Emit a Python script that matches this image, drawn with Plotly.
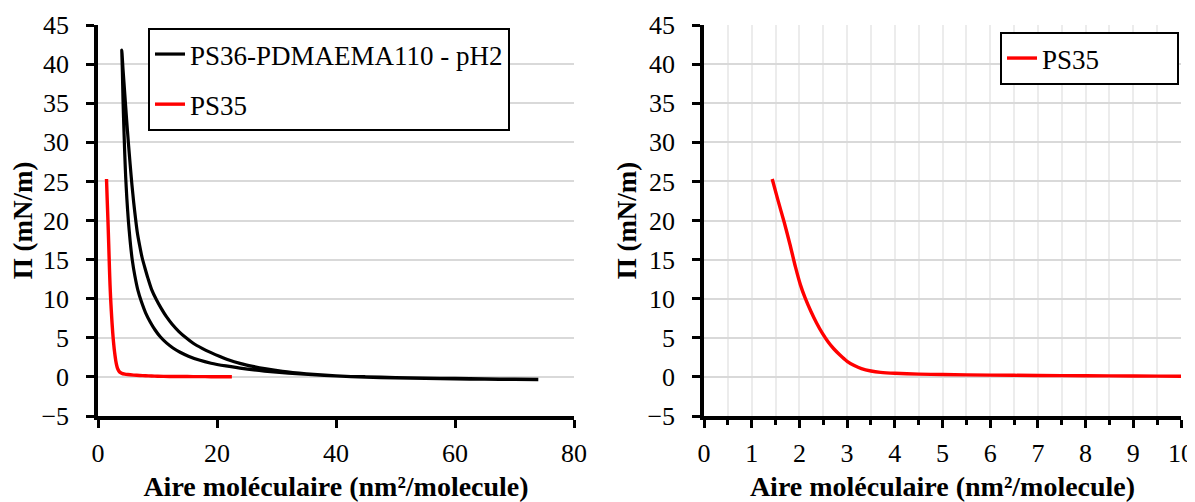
import plotly.graph_objects as go

# ---------------- data ----------------
# PS36-PDMAEMA110 - pH2 : compression branch (large -> small area) then expansion branch
bk_comp_x = [74, 70, 65, 60, 55, 50, 45, 40, 35, 31, 28, 26, 24, 22, 20.5, 19, 17.5, 16, 14.8, 13.6, 12.5,
             11.5, 10.6, 9.8, 9.0, 8.4, 7.9, 7.4, 7.0, 6.6, 6.3, 6.0, 5.7, 5.4, 5.1, 4.8, 4.5, 4.2, 4.0]
bk_comp_y = [-0.3, -0.28, -0.25, -0.2, -0.15, -0.08, 0.02, 0.15, 0.4, 0.7, 1.05, 1.35, 1.7, 2.15, 2.6, 3.1,
             3.65, 4.3, 5.0, 5.8, 6.7, 7.7, 8.8, 9.9, 11.2, 12.6, 13.9, 15.3, 16.8, 18.5, 20.3, 22.3, 24.6,
             27.2, 30.0, 33.0, 36.2, 39.4, 41.8]
bk_exp_x = [4.1, 4.2, 4.35, 4.5, 4.65, 4.85, 5.1, 5.4, 5.75, 6.2, 6.7, 7.3, 8.0, 8.8, 9.6, 10.5, 11.5, 12.6,
            13.8, 15.2, 17, 19, 21.5, 24.5, 28, 32, 36, 40, 45, 50, 55, 60, 65, 70, 74]
bk_exp_y = [39.0, 35.5, 31.8, 28.4, 25.6, 22.8, 20.0, 17.4, 15.0, 12.9, 11.1, 9.6, 8.2, 7.0, 6.0, 5.1, 4.35,
            3.7, 3.15, 2.65, 2.15, 1.75, 1.4, 1.05, 0.75, 0.48, 0.3, 0.12, -0.03, -0.13, -0.2, -0.25, -0.3,
            -0.32, -0.35]

ps35_x = [1.43, 1.55, 1.68, 1.8, 1.92, 2.02, 2.12, 2.24, 2.36, 2.48, 2.6, 2.72, 2.85, 3.0, 3.15, 3.3, 3.5,
          3.7, 4.0, 4.5, 5.0, 6, 7, 8, 9, 10, 12, 14, 16, 18, 20, 22.5]
ps35_y = [25.3, 22.6, 19.8, 17.0, 14.0, 11.8, 10.1, 8.4, 6.9, 5.6, 4.5, 3.6, 2.8, 2.0, 1.45, 1.05, 0.75,
          0.58, 0.46, 0.36, 0.3, 0.23, 0.18, 0.14, 0.11, 0.08, 0.06, 0.05, 0.04, 0.03, 0.02, 0.02]

name_bk = "PS36-PDMAEMA110 - pH2"
name_red = "PS35"
x_title = "Aire moléculaire (nm²/molecule)"
y_title = "Π (mN/m)"

# page body has an 8px default margin -> figure placed at (8, 8)
OFF = 8
W, H = 1195 - OFF, 502 - OFF


def fx(px):
    return (px - OFF) / W


def fy(py):
    return 1 - (py - OFF) / H


FONT = "Liberation Serif"

fig = go.Figure()
fig.add_trace(go.Scatter(x=bk_comp_x + bk_exp_x, y=bk_comp_y + bk_exp_y, mode="lines", name=name_bk,
                         line=dict(color="black", width=3.2, shape="spline", smoothing=0.6),
                         xaxis="x", yaxis="y", legend="legend", legendgroup="a"))
fig.add_trace(go.Scatter(x=ps35_x, y=ps35_y, mode="lines", name=name_red,
                         line=dict(color="#ff0000", width=3.4, shape="spline", smoothing=0.6),
                         xaxis="x", yaxis="y", legend="legend", legendgroup="b"))
fig.add_trace(go.Scatter(x=ps35_x, y=ps35_y, mode="lines", name=name_red,
                         line=dict(color="#ff0000", width=3.4, shape="spline", smoothing=0.6),
                         xaxis="x2", yaxis="y2", legend="legend2"))

tickfont = dict(family=FONT, size=26, color="black")
ytitlefont = dict(family=FONT, size=27, color="black", weight="bold")
xtitlefont = dict(family=FONT, size=28, color="black", weight="bold")

common_y = dict(range=[-5, 45], dtick=5, showgrid=True, gridcolor="#d9d9d9", gridwidth=2,
                zeroline=False, showline=True, linecolor="black", linewidth=3.5, automargin=False,
                ticks="outside", ticklen=8, tickwidth=3, tickcolor="black", tickfont=tickfont,
                ticklabelstandoff=12, title=dict(text=y_title, font=ytitlefont, standoff=4),
                domain=[fy(416), fy(25)])

common_x = dict(showline=True, linecolor="black", linewidth=3.5, ticks="outside", ticklen=8, tickwidth=3,
                tickcolor="black", tickfont=tickfont, ticklabelstandoff=3, automargin=False, zeroline=False,
                title=dict(text=x_title, font=xtitlefont, standoff=16))

fig.update_layout(
    width=W, height=H, margin=dict(l=0, r=0, t=0, b=0, autoexpand=False),
    paper_bgcolor="white", plot_bgcolor="white",
    xaxis=dict(domain=[fx(98), fx(574)], range=[0, 80], dtick=20, showgrid=False, anchor="y", **common_x),
    yaxis=dict(anchor="x", **common_y),
    xaxis2=dict(domain=[fx(704), fx(1181)], range=[0, 10], dtick=1, showgrid=True, gridcolor="#ececec",
                gridwidth=1.5,
                minor=dict(dtick=0.5, ticks="outside", ticklen=5, tickwidth=3, tickcolor="black",
                           showgrid=True, gridcolor="#ececec", gridwidth=1.5),
                anchor="y2", **common_x),
    yaxis2=dict(anchor="x2", **common_y),
    legend=dict(x=fx(148), y=fy(28), xanchor="left", yanchor="top", bordercolor="black", borderwidth=2,
                bgcolor="white", font=dict(family=FONT, size=27, color="black"), traceorder="grouped",
                tracegroupgap=12),
    legend2=dict(x=fx(1179), y=fy(32), xanchor="right", yanchor="top", bordercolor="black",
                 borderwidth=2, bgcolor="white", font=dict(family=FONT, size=27, color="black"),
                 orientation="h", entrywidth=130, entrywidthmode="pixels"),
    showlegend=True,
)

fig.write_html("out.html")
